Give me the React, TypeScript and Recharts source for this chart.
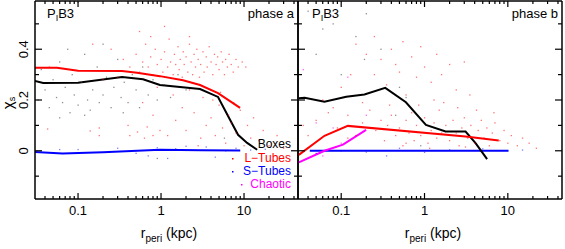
import { ComposedChart, Scatter, Line, XAxis, YAxis } from "recharts";

const X_DOMAIN = [0.0303, 44.7];
const Y_DOMAIN = [-0.19, 0.59];
const X_MAJOR = [0.1, 1, 10];
const X_TICKS = [
  0.04, 0.05, 0.06, 0.07, 0.08, 0.09, 0.1, 0.2, 0.3, 0.4, 0.5, 0.6, 0.7, 0.8, 0.9,
  1, 2, 3, 4, 5, 6, 7, 8, 9, 10, 20, 30, 40,
];
const Y_TICKS = [-0.1, 0, 0.1, 0.2, 0.3, 0.4, 0.5];
const Y_LABELED = [0, 0.2, 0.4];

// phase a lines
const boxesA = [
  [0.0303, 0.275], [0.038, 0.267], [0.1, 0.268], [0.339, 0.291], [0.607, 0.282],
  [0.97, 0.259], [2.95, 0.243], [4.86, 0.212], [6.78, 0.122], [8.47, 0.063],
  [10.9, 0.031], [14.4, 0.004],
];
const lTubesA = [
  [0.0303, 0.327], [0.0558, 0.327], [0.1, 0.315], [0.339, 0.314], [0.514, 0.307],
  [0.97, 0.294], [1.84, 0.278], [2.95, 0.259], [4.86, 0.227], [8.96, 0.169],
];
const sTubesA = [
  [0.0303, -0.005], [0.065, -0.011], [0.2, -0.006], [0.97, 0.004], [3, 0.002], [9, 0.001],
];

// phase b lines
const boxesB = [
  [0.031, 0.207], [0.0364, 0.209], [0.063, 0.193], [0.115, 0.213], [0.19, 0.222],
  [0.338, 0.248], [0.598, 0.191], [1.04, 0.102], [1.79, 0.076], [3.11, 0.076],
  [4.1, 0.03], [5.64, -0.033],
];
const lTubesB = [[0.031, -0.016], [0.063, 0.059], [0.12, 0.098], [3.11, 0.056], [7.78, 0.04]];
const chaoticB = [[0.031, -0.046], [0.063, 0.0], [0.105, 0.024], [0.199, 0.082]];
const sTubesB = [[0.042, 0.0], [10.2, 0.0]];

// scatter points, phase a
const redA = [
  [0.35, 0.36], [0.42, 0.33], [0.5, 0.38], [0.55, 0.31], [0.6, 0.35], [0.65, 0.42], [0.7, 0.33],
  [0.75, 0.37], [0.8, 0.3], [0.85, 0.4], [0.9, 0.34], [1.0, 0.36], [1.05, 0.31], [1.1, 0.39],
  [1.2, 0.33], [1.25, 0.44], [1.3, 0.35], [1.4, 0.3], [1.45, 0.38], [1.5, 0.34], [1.6, 0.41],
  [1.65, 0.32], [1.7, 0.36], [1.8, 0.29], [1.85, 0.39], [1.9, 0.34], [2.0, 0.37], [2.1, 0.31],
  [2.2, 0.42], [2.3, 0.35], [2.4, 0.3], [2.5, 0.38], [2.6, 0.33], [2.7, 0.4], [2.8, 0.36],
  [2.9, 0.29], [3.0, 0.34], [3.2, 0.39], [3.3, 0.31], [3.5, 0.37], [3.6, 0.33], [3.8, 0.41],
  [4.0, 0.35], [4.2, 0.3], [4.4, 0.38], [4.6, 0.34], [4.8, 0.37], [5.0, 0.32], [5.3, 0.39],
  [5.5, 0.35], [5.8, 0.3], [6.0, 0.36], [6.3, 0.33], [6.6, 0.38], [7.0, 0.34], [7.4, 0.31],
  [8.0, 0.36], [8.5, 0.33], [9.5, 0.35], [10.5, 0.33], [0.55, 0.47], [1.1, 0.49], [0.75, 0.45],
  [2.2, 0.45], [0.15, 0.42], [0.25, 0.4], [0.3, 0.29], [0.2, 0.28], [1.5, 0.12], [2, 0.08],
  [2.5, 0.15], [3, 0.05], [3.5, 0.1], [4, 0.13], [4.5, 0.06], [5, 0.18], [5.5, 0.09], [6, 0.03],
  [6.5, 0.14], [7, 0.11], [8, 0.07], [9, 0.16], [10, 0.02], [11, 0.1], [12, 0.05], [13, 0.13],
  [15, 0.04], [17, 0.08], [20, 0.02], [25, 0.06], [0.8, 0.14], [1.2, 0.06], [0.4, 0.1],
  [0.18, 0.09], [2.8, 0.02], [4.2, 0.2], [0.6, 0.19], [1.8, 0.17], [7.5, 0.19], [30, 0.01],
  [3.2, 0.21], [2.2, 0.24], [5.2, 0.23], [1.4, 0.22], [0.9, 0.25], [0.043, 0.086], [0.045, 0.33],
  [0.14, 0.078], [0.18, 0.06], [0.42, 0.06], [0.52, 0.074], [0.63, 0.05], [0.68, 0.094],
  [0.8, 0.06], [0.97, 0.08],
];
const blackA = [
  [0.033, 0.2], [0.036, 0.32], [0.04, 0.24], [0.045, 0.17], [0.05, 0.28], [0.055, 0.21],
  [0.06, 0.35], [0.065, 0.19], [0.07, 0.25], [0.08, 0.15], [0.085, 0.3], [0.09, 0.22], [0.1, 0.18],
  [0.11, 0.27], [0.12, 0.38], [0.13, 0.2], [0.14, 0.16], [0.15, 0.24], [0.17, 0.33], [0.18, 0.19],
  [0.2, 0.22], [0.22, 0.29], [0.25, 0.17], [0.27, 0.25], [0.3, 0.36], [0.33, 0.21], [0.36, 0.27],
  [0.4, 0.19], [0.45, 0.3], [0.5, 0.24], [0.55, 0.17], [0.6, 0.33], [0.7, 0.22], [0.8, 0.28],
  [0.9, 0.2], [1.1, 0.26], [1.3, 0.21], [1.6, 0.3], [2.0, 0.24], [0.1, 0.585], [0.075, 0.4],
  [0.2, 0.42], [0.06, 0.13], [0.12, 0.14], [0.35, 0.15], [5.8, 0.05], [0.9, -0.03],
];
const blueA = [
  [0.1, 0.005], [0.3, 0.01], [0.5, -0.01], [0.9, 0.012], [1.5, 0.008], [2, 0.018], [3.5, 0.015],
  [6, 0.0], [8, 0.01], [12, 0.003], [18, 0.006], [1.2, -0.03], [0.7, -0.02], [0.06, 0.005],
  [4.5, -0.025],
];

// scatter points, phase b
const redB = [
  [0.06, 0.2], [0.1, 0.25], [0.13, 0.3], [0.2, 0.38], [0.25, 0.3], [0.3, 0.36], [0.35, 0.26],
  [0.4, 0.4], [0.45, 0.34], [0.5, 0.31], [0.6, 0.22], [0.7, 0.37], [0.8, 0.29], [0.9, 0.41],
  [1.0, 0.33], [1.2, 0.27], [1.4, 0.38], [1.6, 0.3], [2.0, 0.34], [2.4, 0.24], [3.0, 0.35],
  [3.5, 0.22], [0.15, 0.42], [0.25, 0.45], [0.55, 0.43], [1.3, 0.2], [0.08, 0.17], [0.18, 0.19],
  [0.05, 0.12], [0.07, 0.15], [0.09, 0.09], [0.12, 0.14], [0.15, 0.06], [0.18, 0.11],
  [0.22, 0.16], [0.26, 0.08], [0.3, 0.12], [0.33, 0.04], [0.36, 0.1], [0.4, 0.14], [0.45, 0.06],
  [0.5, 0.09], [0.55, 0.02], [0.6, 0.12], [0.65, 0.07], [0.7, 0.15], [0.75, 0.04], [0.8, 0.1],
  [0.9, 0.06], [1.0, 0.13], [1.1, 0.03], [1.2, 0.08], [1.3, 0.11], [1.4, 0.05], [1.5, 0.16],
  [1.6, 0.07], [1.8, 0.1], [2.0, 0.04], [2.2, 0.12], [2.4, 0.07], [2.6, 0.02], [2.8, 0.09],
  [3.0, 0.13], [3.3, 0.05], [3.6, 0.1], [4.0, 0.03], [4.4, 0.08], [4.8, 0.12], [5.2, 0.05],
  [5.6, 0.09], [6.0, 0.02], [6.5, 0.07], [7.0, 0.11], [8.0, 0.04], [9.0, 0.08], [10.0, 0.03],
  [11, 0.06], [13, 0.02], [15, 0.05], [18, 0.03], [22, 0.01], [0.85, 0.18], [1.7, 0.19],
  [2.5, 0.17], [0.38, 0.18], [4.2, 0.16], [6.8, 0.15], [1.15, 0.01], [3.1, 0.015], [0.6, 0.03],
  [0.04, 0.06], [0.035, 0.1], [0.12, 0.05],
];
const blackB = [
  [0.04, 0.55], [0.05, 0.38], [0.06, 0.48], [0.08, 0.5], [0.1, 0.3], [0.15, 0.45], [0.19, 0.36],
  [0.3, 0.4], [0.5, 0.25], [0.6, 0.21], [0.45, 0.14], [0.9, 0.02], [0.2, 0.54],
];
const magentaB = [
  [0.035, 0.32], [0.12, 0.29], [0.08, 0.09], [0.06, -0.02], [0.1, 0.03], [0.05, 0.11], [0.2, 0.14],
];
const blueB = [
  [0.1, 0.0], [0.2, -0.005], [0.5, 0.01], [1, -0.006], [2, 0.004], [5, 0.008], [15, 0.003],
  [0.35, -0.02], [0.05, -0.01],
];

const FONT = '"Liberation Sans", Arial, sans-serif';
const pts = (arr: number[][]) => arr.map(([x, y]) => ({ x, y }));

const Dot = (p: any) => (
  <rect x={p.cx - 0.6} y={p.cy - 0.6} width={1.3} height={1.3} fill={p.fill} fillOpacity={p.fillOpacity} />
);

const XTick = ({ x, y, payload, top }: any) => {
  const major = X_MAJOR.includes(payload.value);
  const len = major ? 6 : 3;
  const dir = top ? 1 : -1;
  return (
    <g>
      <line x1={x} x2={x} y1={y} y2={y + dir * len} stroke="#000" strokeWidth={1.2} />
      {!top && major && (
        <text x={x} y={y + 16} textAnchor="middle" fontSize={13} fontFamily={FONT} fill="#000">
          {payload.value}
        </text>
      )}
    </g>
  );
};

const YTick = ({ x, y, payload, right, labels }: any) => {
  const major = Y_LABELED.includes(payload.value);
  const len = major ? 7 : 4;
  const dir = right ? -1 : 1;
  return (
    <g>
      <line x1={x} x2={x + dir * len} y1={y} y2={y} stroke="#000" strokeWidth={1.2} />
      {labels && major && (
        <text
          x={x - 7}
          y={y}
          textAnchor="middle"
          fontSize={13}
          fontFamily={FONT}
          fill="#000"
          transform={`rotate(-90 ${x - 7} ${y})`}
        >
          {payload.value}
        </text>
      )}
    </g>
  );
};

const axisLine = { stroke: "#000", strokeWidth: 1.5 };

function Panel({ left, width, marginLeft, labels, scatter, lines }: any) {
  return (
    <div style={{ position: "absolute", left, top: 0 }}>
      <ComposedChart
        width={width}
        height={249}
        margin={{ top: 0, right: 1, bottom: 49, left: marginLeft }}
      >
        <XAxis
          dataKey="x"
          type="number"
          scale="log"
          domain={X_DOMAIN}
          allowDataOverflow
          ticks={X_TICKS}
          interval={0}
          height={1}
          tickSize={0}
          tickMargin={0}
          tickLine={false}
          axisLine={axisLine}
          tick={<XTick />}
        />
        <XAxis
          xAxisId="t"
          orientation="top"
          dataKey="x"
          type="number"
          scale="log"
          domain={X_DOMAIN}
          allowDataOverflow
          ticks={X_TICKS}
          interval={0}
          height={1}
          tickSize={0}
          tickMargin={0}
          tickLine={false}
          axisLine={axisLine}
          tick={<XTick top />}
        />
        <YAxis
          dataKey="y"
          type="number"
          domain={Y_DOMAIN}
          allowDataOverflow
          ticks={Y_TICKS}
          interval={0}
          width={1}
          tickSize={0}
          tickMargin={0}
          tickLine={false}
          axisLine={axisLine}
          tick={<YTick labels={labels} />}
        />
        <YAxis
          yAxisId="r"
          orientation="right"
          dataKey="y"
          type="number"
          domain={Y_DOMAIN}
          allowDataOverflow
          ticks={Y_TICKS}
          interval={0}
          width={1}
          tickSize={0}
          tickMargin={0}
          tickLine={false}
          axisLine={axisLine}
          tick={<YTick right />}
        />
        {scatter.map((s: any, i: number) => (
          <Scatter
            key={"s" + i}
            data={pts(s.data)}
            fill={s.color}
            fillOpacity={s.opacity}
            shape={<Dot />}
            isAnimationActive={false}
          />
        ))}
        {lines.map((l: any, i: number) => (
          <Line
            key={"l" + i}
            data={pts(l.data)}
            dataKey="y"
            type="linear"
            stroke={l.color}
            strokeWidth={2}
            dot={false}
            isAnimationActive={false}
          />
        ))}
      </ComposedChart>
    </div>
  );
}

export default function App() {
  return (
    <div style={{ position: "absolute", left: 0, top: 0, width: 565, height: 249, background: "#fff" }}>
      <Panel
        left={0}
        width={300}
        marginLeft={34}
        labels
        scatter={[
          { data: redA, color: "#ff0000", opacity: 0.55 },
          { data: blackA, color: "#444", opacity: 0.6 },
          { data: blueA, color: "#0000ff", opacity: 0.5 },
        ]}
        lines={[
          { data: sTubesA, color: "#0000ff" },
          { data: boxesA, color: "#000" },
          { data: lTubesA, color: "#ff0000" },
        ]}
      />
      <Panel
        left={297}
        width={267}
        marginLeft={0}
        labels={false}
        scatter={[
          { data: redB, color: "#ff0000", opacity: 0.55 },
          { data: blackB, color: "#444", opacity: 0.6 },
          { data: magentaB, color: "#ff00ff", opacity: 0.6 },
          { data: blueB, color: "#0000ff", opacity: 0.5 },
        ]}
        lines={[
          { data: sTubesB, color: "#0000ff" },
          { data: boxesB, color: "#000" },
          { data: lTubesB, color: "#ff0000" },
          { data: chaoticB, color: "#ff00ff" },
        ]}
      />
      <svg
        width={565}
        height={249}
        style={{ position: "absolute", left: 0, top: 0, pointerEvents: "none" }}
        fontFamily={FONT}
      >
        <text x={47} y={18} fontSize={13}>
          P<tspan dy={3} fontSize={9}>I</tspan>
          <tspan dy={-3}>B3</tspan>
        </text>
        <text x={312} y={18} fontSize={13}>
          P<tspan dy={3} fontSize={9}>I</tspan>
          <tspan dy={-3}>B3</tspan>
        </text>
        <text x={294} y={18} fontSize={13} textAnchor="end">phase a</text>
        <text x={558} y={18} fontSize={13} textAnchor="end">phase b</text>
        <text x={13} y={103} fontSize={15} textAnchor="middle" transform="rotate(-90 13 103)">
          χ<tspan dy={2} fontSize={9}>s</tspan>
        </text>
        <text x={169} y={238} fontSize={14} textAnchor="middle">
          r<tspan dy={4} fontSize={10}>peri</tspan>
          <tspan dy={-4}>{"  (kpc)"}</tspan>
        </text>
        <text x={433} y={238} fontSize={14} textAnchor="middle">
          r<tspan dy={4} fontSize={10}>peri</tspan>
          <tspan dy={-4}>{"  (kpc)"}</tspan>
        </text>
        <text x={291} y={148} fontSize={12} textAnchor="end" fill="#000">Boxes</text>
        <text x={291} y={162} fontSize={12} textAnchor="end" fill="#ff0000">L−Tubes</text>
        <text x={291} y={175} fontSize={12} textAnchor="end" fill="#0000ff">S−Tubes</text>
        <text x={291} y={188} fontSize={12} textAnchor="end" fill="#ff00ff">Chaotic</text>
        <rect x={232} y={158} width={1.5} height={1.5} fill="#ff0000" />
        <rect x={232} y={171} width={1.5} height={1.5} fill="#0000ff" />
        <rect x={241} y={184} width={1.5} height={1.5} fill="#ff00ff" />
      </svg>
    </div>
  );
}
